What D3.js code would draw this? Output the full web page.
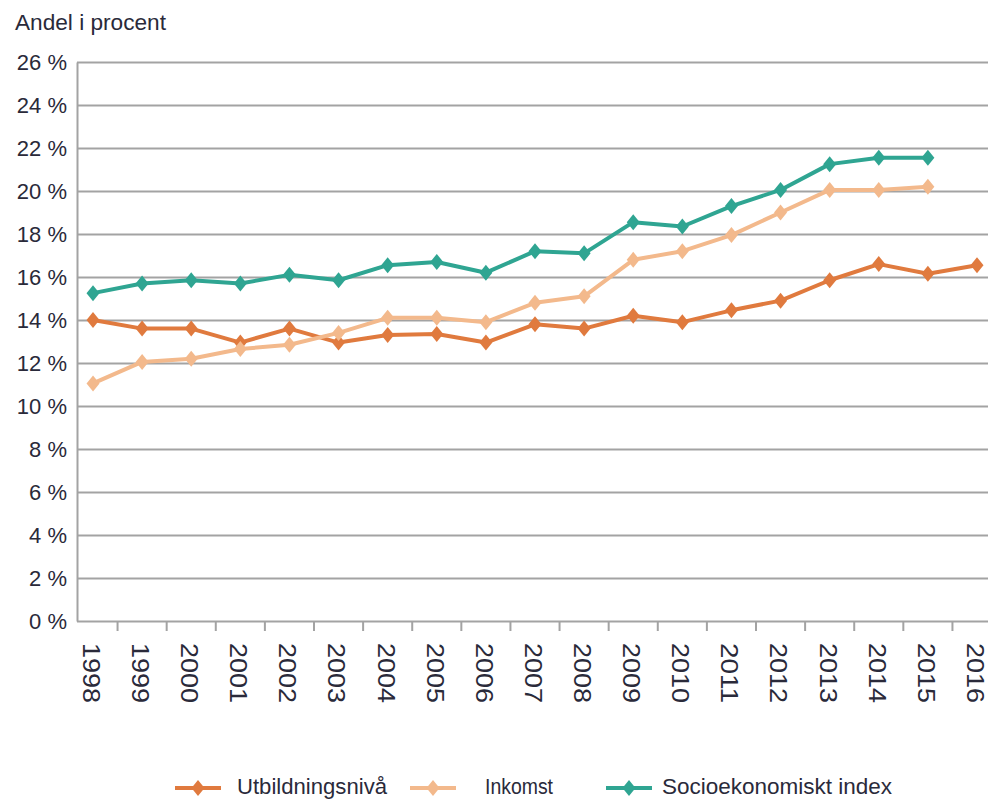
<!DOCTYPE html>
<html lang="sv">
<head>
    <meta charset="UTF-8">
    <title>Andel i procent</title>
    <script src="https://d3js.org/d3.v7.min.js"></script>
    <style>
        body { margin: 0; background: #fff; }
        .grid line { stroke: #a3a3a3; stroke-width: 2; }
        .axis text { fill: #2a2a3a; font-family: "Liberation Sans", Arial, sans-serif; }
        .narrow { font-family: "Liberation Sans", Arial, sans-serif; fill: #2a2a3a; }
        .series { fill: none; stroke-width: 4; stroke-linejoin: round; }
    </style>
</head>
<body>
<div id="chart"></div>
<script type="text/javascript">
    // data
    const years = ["1998","1999","2000","2001","2002","2003","2004","2005","2006","2007",
                   "2008","2009","2010","2011","2012","2013","2014","2015","2016"];
    const utbildning = [14.0,13.6,13.6,12.95,13.6,12.95,13.3,13.35,12.95,13.8,13.6,14.2,13.9,14.45,14.9,15.85,16.6,16.15,16.55];
    const inkomst = [11.05,12.05,12.2,12.65,12.85,13.4,14.1,14.1,13.9,14.8,15.1,16.8,17.2,17.95,19.0,20.05,20.05,20.2,null];
    const socio = [15.25,15.7,15.85,15.7,16.1,15.85,16.55,16.7,16.2,17.2,17.1,18.55,18.35,19.3,20.05,21.25,21.55,21.55,null];
    const yTicks = [0,2,4,6,8,10,12,14,16,18,20,22,24,26];

    const seriesList = [
        {name: "Utbildningsnivå", values: utbildning, color: "#e07a3e"},
        {name: "Inkomst", values: inkomst, color: "#f3b98c"},
        {name: "Socioekonomiskt index", values: socio, color: "#2fa592"}
    ];

    const W = 988, H = 801;
    const plotLeft = 77, plotRight = 988, plotTop = 62, plotBottom = 621;

    const svg = d3.select("#chart").append("svg")
        .attr("width", W).attr("height", H);

    const x = d3.scalePoint().domain(years).range([93, 977]);
    const y = d3.scaleLinear().domain([0, 26]).range([plotBottom, plotTop]);

    // title (condensed look via textLength)
    svg.append("text").attr("class", "narrow")
        .attr("x", 15).attr("y", 30)
        .style("font-size", "22px")
        .attr("textLength", 151).attr("lengthAdjust", "spacingAndGlyphs")
        .text("Andel i procent");

    // y axis with gridlines
    const yAxis = svg.append("g")
        .attr("class", "axis grid")
        .attr("transform", `translate(${plotLeft},0)`)
        .call(d3.axisLeft(y).tickValues(yTicks).tickFormat(d => d + " %")
            .tickSize(-(plotRight - plotLeft)).tickSizeOuter(0).tickPadding(10));
    yAxis.select(".domain").attr("stroke", "#a3a3a3").attr("stroke-width", 2);
    yAxis.selectAll("text").style("font-size", "22px").attr("dy", "0.35em");

    // x axis: ticks between categories, rotated year labels
    const step = x.step();
    svg.append("g").attr("class", "grid")
        .selectAll("line")
        .data(years.slice(0, -1))
        .join("line")
        .attr("x1", d => x(d) + step / 2).attr("x2", d => x(d) + step / 2)
        .attr("y1", plotBottom).attr("y2", plotBottom + 10);

    svg.append("g").attr("class", "axis")
        .selectAll("text")
        .data(years)
        .join("text")
        .attr("transform", d => `translate(${x(d) - 2},643) rotate(90)`)
        .attr("dy", "0.35em")
        .style("font-size", "23px")
        .attr("textLength", 60).attr("lengthAdjust", "spacingAndGlyphs")
        .text(d => d);

    // lines and diamond markers
    const diamond = "M0,-8L6.5,0L0,8L-6.5,0Z";
    const line = d3.line()
        .defined(d => d.v != null)
        .x(d => x(d.year))
        .y(d => y(d.v));

    seriesList.forEach(s => {
        const pts = years.map((yr, i) => ({year: yr, v: s.values[i]}));
        svg.append("path").attr("class", "series")
            .attr("stroke", s.color)
            .attr("d", line(pts));
        svg.append("g").selectAll("path")
            .data(pts.filter(p => p.v != null))
            .join("path")
            .attr("d", diamond)
            .attr("fill", s.color)
            .attr("transform", p => `translate(${x(p.year)},${y(p.v)})`);
    });

    // legend
    const legendX = [175, 410, 606];
    const legendText = [237, 485, 662];
    const legendWidth = [150, 68, 230];
    const legendY = 788;
    seriesList.forEach((s, i) => {
        const g = svg.append("g");
        g.append("line")
            .attr("x1", legendX[i]).attr("x2", legendX[i] + 46)
            .attr("y1", legendY).attr("y2", legendY)
            .attr("stroke", s.color).attr("stroke-width", 4);
        g.append("path").attr("d", diamond).attr("fill", s.color)
            .attr("transform", `translate(${legendX[i] + 23},${legendY})`);
        g.append("text").attr("class", "narrow")
            .attr("x", legendText[i]).attr("y", legendY - 2).attr("dy", "0.35em")
            .style("font-size", "22px")
            .attr("textLength", legendWidth[i]).attr("lengthAdjust", "spacingAndGlyphs")
            .text(s.name);
    });
</script>
</body>
</html>
